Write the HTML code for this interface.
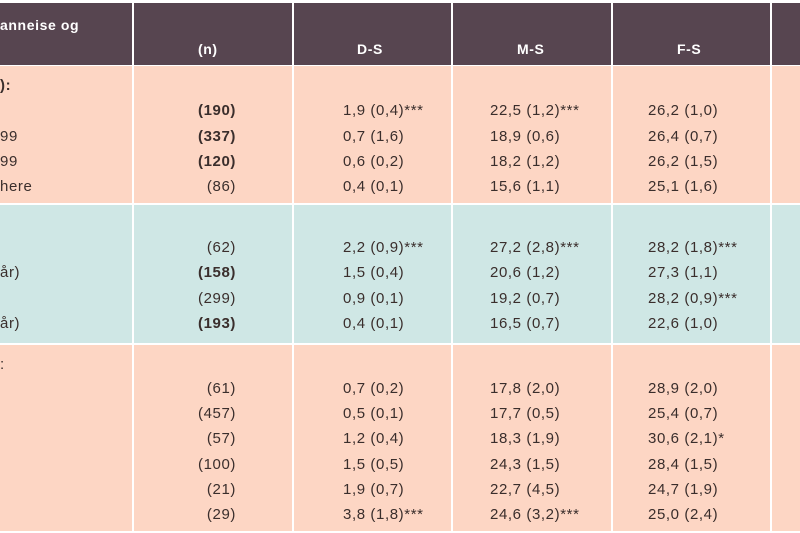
<!DOCTYPE html><html><head><style>
body{margin:0;width:800px;height:533px;overflow:hidden;background:#fff;font-family:"Liberation Sans",sans-serif;position:relative}
.b{position:absolute;left:0;width:800px}
.v{position:absolute;top:0;width:2px;height:533px;background:#fff}
.t{position:absolute;font-size:15px;color:#3a2e2c;white-space:nowrap;line-height:18px;letter-spacing:0.6px}
.h{color:#fff;font-weight:bold;font-size:14px}
.r{text-align:right}
</style></head><body>
<div class="b" style="top:3px;height:62px;background:#574550"></div>
<div class="b" style="top:66px;height:137px;background:#fdd6c4"></div>
<div class="b" style="top:205px;height:138px;background:#cfe7e5"></div>
<div class="b" style="top:345px;height:186px;background:#fdd6c4"></div>
<div class="v" style="left:132px"></div><div class="v" style="left:292px"></div><div class="v" style="left:451px"></div><div class="v" style="left:611px"></div><div class="v" style="left:770px"></div>
<div class="t h" style="left:0;top:16px">anneise og</div>
<div class="t h" style="left:198px;top:40px">(n)</div>
<div class="t h" style="left:357px;top:40px">D-S</div>
<div class="t h" style="left:517px;top:40px">M-S</div>
<div class="t h" style="left:677px;top:40px">F-S</div>
<div class="t" style="left:0;top:77px;font-weight:bold">):</div>
<div class="t" style="left:0;top:128px">99</div>
<div class="t" style="left:0;top:153px">99</div>
<div class="t" style="left:0;top:178px">here</div>
<div class="t" style="left:0;top:264px">år)</div>
<div class="t" style="left:0;top:315px">år)</div>
<div class="t" style="left:0;top:356px">:</div>
<div id="c"></div>
<script>
var rows=[[102,"(190)","1,9 (0,4)***","22,5 (1,2)***","26,2 (1,0)",1],[128,"(337)","0,7 (1,6)","18,9 (0,6)","26,4 (0,7)",1],[153,"(120)","0,6 (0,2)","18,2 (1,2)","26,2 (1,5)",1],[178,"(86)","0,4 (0,1)","15,6 (1,1)","25,1 (1,6)",0],
[239,"(62)","2,2 (0,9)***","27,2 (2,8)***","28,2 (1,8)***",0],[264,"(158)","1,5 (0,4)","20,6 (1,2)","27,3 (1,1)",1],[290,"(299)","0,9 (0,1)","19,2 (0,7)","28,2 (0,9)***",0],[315,"(193)","0,4 (0,1)","16,5 (0,7)","22,6 (1,0)",1],
[380,"(61)","0,7 (0,2)","17,8 (2,0)","28,9 (2,0)",0],[405,"(457)","0,5 (0,1)","17,7 (0,5)","25,4 (0,7)",0],[430,"(57)","1,2 (0,4)","18,3 (1,9)","30,6 (2,1)*",0],[456,"(100)","1,5 (0,5)","24,3 (1,5)","28,4 (1,5)",0],[481,"(21)","1,9 (0,7)","22,7 (4,5)","24,7 (1,9)",0],[506,"(29)","3,8 (1,8)***","24,6 (3,2)***","25,0 (2,4)",0]];
var h="";rows.forEach(function(r){
h+='<div class="t r" style="left:150px;width:86px;top:'+r[0]+'px;font-weight:'+(r[5]?'bold':'normal')+'">'+r[1]+'</div>';
h+='<div class="t" style="left:343px;top:'+r[0]+'px">'+r[2]+'</div>';
h+='<div class="t" style="left:490px;top:'+r[0]+'px">'+r[3]+'</div>';
h+='<div class="t" style="left:648px;top:'+r[0]+'px">'+r[4]+'</div>';});
document.getElementById("c").innerHTML=h;
</script>
</body></html>
